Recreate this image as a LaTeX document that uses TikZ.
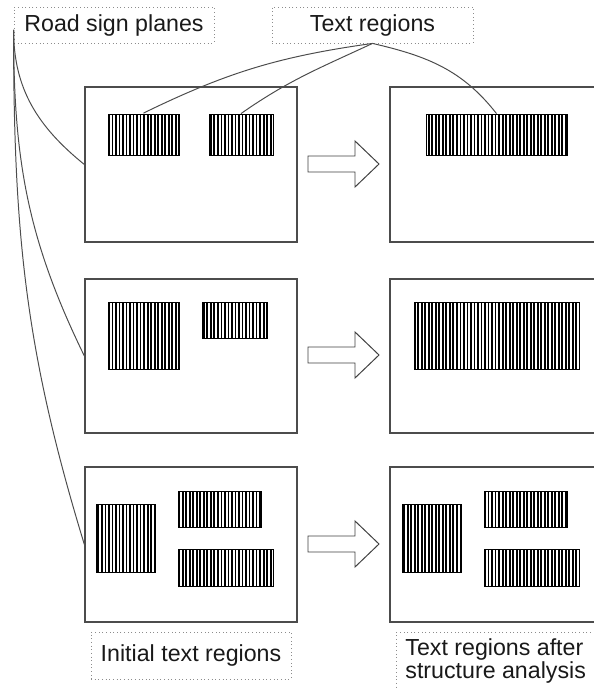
\documentclass[tikz,border=0pt]{standalone}
\usepackage{fontspec}
\setmainfont{Liberation Sans}
\usetikzlibrary{fit,patterns.meta}

\begin{document}
\begin{tikzpicture}[x=0.25cm,y=-0.25cm,
    panel/.style={draw=black!70,line width=0.9pt,inner sep=0pt},
    textarea/.style={draw=black,line width=0.6pt,inner sep=0pt,
      pattern={Lines[angle=90,distance=2.5pt,line width=1.3pt]}},
    tag/.style={draw=black!45,dotted,line width=0.6pt,text=black!90,
      font=\fontsize{16.5}{16.5}\selectfont},
    link/.style={draw=black!70,line width=0.7pt},
    blockarrow/.style={draw=black!75,line width=0.7pt,fill=white}]
  \useasboundingbox (0,0) rectangle (59.3,68.8);

  % labels
  \node[tag,minimum width=5cm,minimum height=0.9cm] (rs) at (11.4,2.5) {Road sign planes};
  \node[tag,minimum width=5.025cm,minimum height=0.9cm] (tr) at (37.25,2.5) {Text regions};
  \node[tag,minimum width=5cm,minimum height=1.175cm] (il) at (19.1,65.55) {Initial text regions};
  \node[tag,anchor=north west,align=left,inner xsep=6.4pt,inner ysep=4.3pt] (ta) at (39.6,63.2)
    {Text regions after\\structure analysis};

  % sign planes
  \node[panel,fit={(8.5,8.7) (29.7,24.2)}] (pa) {};
  \node[panel,fit={(39,8.7) (60.2,24.2)}] (qa) {};
  \node[panel,fit={(8.5,27.9) (29.7,43.3)}] (pb) {};
  \node[panel,fit={(39,27.9) (60.2,43.3)}] (qb) {};
  \node[panel,fit={(8.5,46.7) (29.7,62.2)}] (pc) {};
  \node[panel,fit={(39,46.7) (60.2,62.2)}] (qc) {};

  % text regions
  \node[textarea,fit={(10.8,11.4) (17.9,15.5)}] (a1) {};
  \node[textarea,fit={(20.9,11.4) (27.3,15.5)}] (a2) {};
  \node[textarea,fit={(42.6,11.4) (56.7,15.5)}] (a3) {};
  \node[textarea,fit={(10.8,30.2) (17.9,36.9)}] (b1) {};
  \node[textarea,fit={(20.2,30.2) (26.7,33.8)}] (b2) {};
  \node[textarea,fit={(41.4,30.2) (57.9,36.9)}] (b3) {};
  \node[textarea,fit={(9.6,50.4) (15.5,57.2)}] (c1) {};
  \node[textarea,fit={(17.8,49.1) (26.1,52.7)}] (c2) {};
  \node[textarea,fit={(17.8,54.9) (27.3,58.6)}] (c3) {};
  \node[textarea,fit={(40.2,50.4) (46.1,57.2)}] (c4) {};
  \node[textarea,fit={(48.4,49.1) (56.7,52.7)}] (c5) {};
  \node[textarea,fit={(48.4,54.9) (57.9,58.6)}] (c6) {};

  % arrows
  \foreach \y in {16.4,35.5,54.4}
    \draw[blockarrow] (30.8,\y-0.8) -- (35.5,\y-0.8) -- (35.5,\y-2.3) -- (37.9,\y)
      -- (35.5,\y+2.3) -- (35.5,\y+0.8) -- (30.8,\y+0.8) -- cycle;

  % links
  \draw[link] ([yshift=-3.5pt]rs.west) to[out=-90,in=141] (pa.west);
  \draw[link] ([yshift=-3.5pt]rs.west) to[out=-90,in=116] (pb.west);
  \draw[link] ([yshift=-3.5pt]rs.west) to[out=-90,in=107] (pc.west);
  \draw[link] (tr.south) to[out=188,in=26] (a1.north);
  \draw[link] (tr.south) to[out=205,in=35] (a2.north);
  \draw[link] (tr.south) to[out=-13,in=128] (a3.north);
\end{tikzpicture}
\end{document}
